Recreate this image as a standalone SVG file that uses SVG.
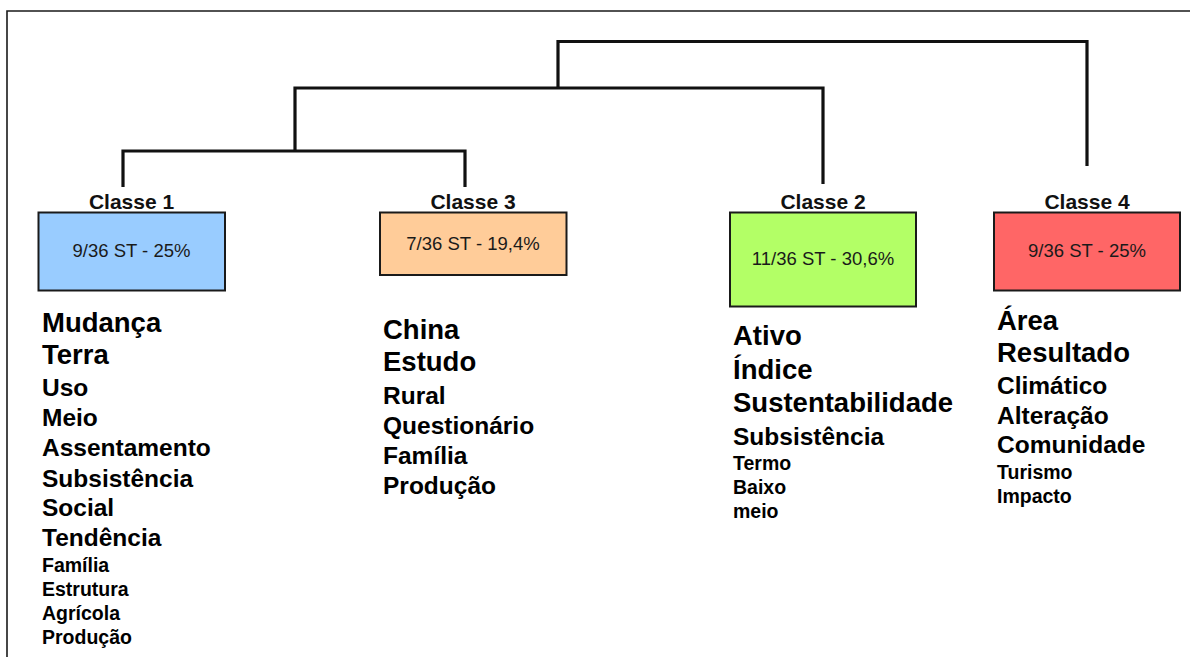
<svg xmlns="http://www.w3.org/2000/svg" width="1190" height="657" viewBox="0 0 1190 657">
<style>
.frame{fill:none;stroke:#1a1a1a;stroke-width:1.6}
.conn{fill:none;stroke:#111;stroke-width:3.2;stroke-linejoin:miter;stroke-linecap:butt}
.box{stroke:#1a1a1a;stroke-width:2}
.lbl{font-family:"Liberation Sans",Arial,sans-serif;font-weight:bold;font-size:21px;fill:#111;text-anchor:middle}
.pct{font-family:"Liberation Sans",Arial,sans-serif;font-size:18.5px;fill:#1a1a1a;text-anchor:middle}
.w{font-family:"Liberation Sans",Arial,sans-serif;font-weight:bold;fill:#000}
.l{font-size:27.5px}
.m{font-size:24.5px}
.s{font-size:19.5px}
</style>
<rect width="1190" height="657" fill="#fff"/>
<path class="frame" d="M7,657 V11 H1190"/>
<g id="connectors">
<path class="conn" d="M123,187 V151 H465 V187"/>
<path class="conn" d="M295,151 V88 H823 V184"/>
<path class="conn" d="M558,88 V41.5 H1087 V166"/>
</g>
<g id="classe1">
<text class="lbl" x="131.5" y="209">Classe 1</text>
<rect class="box" x="38.5" y="212.5" width="186.5" height="78" fill="#99ccff"/>
<text class="pct" x="131.5" y="257">9/36 ST - 25%</text>
<text class="w" x="42"><tspan class="l" x="42" y="332">Mudança</tspan><tspan class="l" x="42" y="364">Terra</tspan><tspan class="m" x="42" y="396">Uso</tspan><tspan class="m" x="42" y="426">Meio</tspan><tspan class="m" x="42" y="456">Assentamento</tspan><tspan class="m" x="42" y="487">Subsistência</tspan><tspan class="m" x="42" y="516">Social</tspan><tspan class="m" x="42" y="546">Tendência</tspan><tspan class="s" x="42" y="572">Família</tspan><tspan class="s" x="42" y="596">Estrutura</tspan><tspan class="s" x="42" y="620">Agrícola</tspan><tspan class="s" x="42" y="644">Produção</tspan></text>
</g>
<g id="classe3">
<text class="lbl" x="473" y="209">Classe 3</text>
<rect class="box" x="380" y="212.5" width="186.5" height="62.5" fill="#ffcc99"/>
<text class="pct" x="473" y="250">7/36 ST - 19,4%</text>
<text class="w"><tspan class="l" x="383" y="339">China</tspan><tspan class="l" x="383" y="371">Estudo</tspan><tspan class="m" x="383" y="404">Rural</tspan><tspan class="m" x="383" y="434">Questionário</tspan><tspan class="m" x="383" y="464">Família</tspan><tspan class="m" x="383" y="494">Produção</tspan></text>
</g>
<g id="classe2">
<text class="lbl" x="823" y="209">Classe 2</text>
<rect class="box" x="730" y="212.5" width="186" height="94" fill="#b3ff66"/>
<text class="pct" x="823" y="265">11/36 ST - 30,6%</text>
<text class="w"><tspan class="l" x="733" y="345">Ativo</tspan><tspan class="l" x="733" y="379">Índice</tspan><tspan class="l" x="733" y="412">Sustentabilidade</tspan><tspan class="m" x="733" y="445">Subsistência</tspan><tspan class="s" x="733" y="470">Termo</tspan><tspan class="s" x="733" y="494">Baixo</tspan><tspan class="s" x="733" y="518">meio</tspan></text>
</g>
<g id="classe4">
<text class="lbl" x="1087" y="209">Classe 4</text>
<rect class="box" x="994" y="212.5" width="186" height="78" fill="#ff6666"/>
<text class="pct" x="1087" y="257">9/36 ST - 25%</text>
<text class="w"><tspan class="l" x="997" y="330">Área</tspan><tspan class="l" x="997" y="362">Resultado</tspan><tspan class="m" x="997" y="394">Climático</tspan><tspan class="m" x="997" y="424">Alteração</tspan><tspan class="m" x="997" y="453">Comunidade</tspan><tspan class="s" x="997" y="479">Turismo</tspan><tspan class="s" x="997" y="503">Impacto</tspan></text>
</g>
</svg>
